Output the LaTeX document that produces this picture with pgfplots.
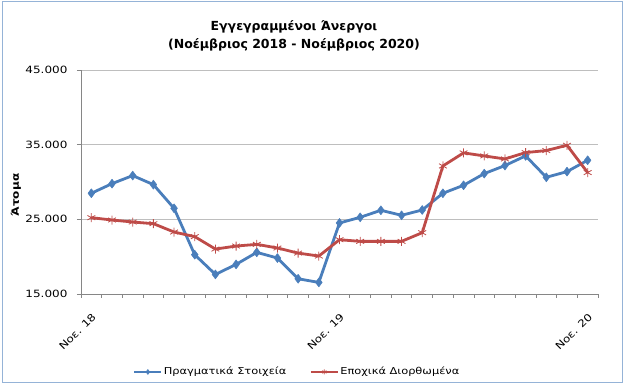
\documentclass[border=0pt]{standalone}
\usepackage{pgfplots}
\usepackage{pgfplotstable}
\pgfplotsset{compat=1.18}
\usepackage{fontspec}
\setmainfont{DejaVu Sans}[FakeStretch=1.2]
\newfontfamily\titlefont{DejaVu Sans}
\definecolor{sblue}{RGB}{74,126,187}
\definecolor{sred}{RGB}{190,75,72}
\definecolor{gridc}{RGB}{190,190,190}
\definecolor{axc}{RGB}{134,134,134}
\definecolor{framec}{RGB}{149,179,215}

\pgfplotstableread{
m real sa
1 28490 25220
2 29780 24910
3 30860 24640
4 29650 24420
5 26475 23300
6 20260 22680
7 17620 21020
8 18965 21420
9 20575 21650
10 19815 21160
11 17040 20480
12 16550 20080
13 24510 22270
14 25270 22050
15 26210 22050
16 25540 22050
17 26250 23210
18 28490 32150
19 29560 33900
20 31125 33490
21 32200 33090
22 33500 33940
23 30630 34210
24 31390 34920
25 32910 31260
}\data

\begin{document}
\begin{tikzpicture}[x=1pt,y=1pt]
\useasboundingbox (0,0) rectangle (625,388);
\draw[framec, line width=1pt] (2,5) rectangle (622.5,386);
\begin{axis}[
  at={(81pt,94pt)}, anchor=south west,
  scale only axis, width=517pt, height=224pt,
  xmin=0.5, xmax=25.5, ymin=15000, ymax=45000,
  axis lines*=left,
  axis line style={axc, line width=0.8pt},
  every tick/.style={axc, line width=0.8pt},
  tick align=outside, major tick length=4pt, minor tick length=4pt,
  xtick={1,13,25},
  xticklabels={Νοε. 18, Νοε. 19, Νοε. 20},
  minor xtick={0.5,1.5,...,25.5},
  major x tick style={draw=none},
  xticklabel style={rotate=45, anchor=east, inner sep=0pt, yshift=-14pt, xshift=-10pt},
  ytick={15000,25000,35000,45000},
  scaled y ticks=false,
  yticklabel={\pgfmathprintnumber[fixed, precision=0, 1000 sep={.}, assume math mode=true]{\tick}},
  ticklabel style={font=\fontsize{10}{12}\selectfont, text=black},
  yticklabel style={xshift=-6pt},
  ymajorgrids, major grid style={gridc, line width=0.8pt},
  legend columns=2,
  legend style={at={(0.418,-0.348)}, anchor=center, draw=none, fill=none,
    font=\fontsize{9.5}{11}\selectfont,
    nodes={inner xsep=1.5pt},
    /tikz/every even column/.append style={column sep=22pt}},
  legend image code/.code={\draw[mark repeat=2,mark phase=2,#1, line width=2pt, mark size=2.5pt] plot coordinates {(0pt,0pt) (13.5pt,0pt) (27pt,0pt)};},
  clip=false,
]
\addplot[sblue, line width=2.8pt, line join=round, mark=diamond*, mark size=4.5pt, mark options={line width=0.5pt, fill=sblue}] table[x=m, y=real] {\data};
\addlegendentry{Πραγματικά Στοιχεία}
\addplot[sred, line width=2.8pt, line join=round, mark=asterisk, mark size=4.5pt, mark options={line width=0.8pt}] table[x=m, y=sa] {\data};
\addlegendentry{Εποχικά Διορθωμένα}
\end{axis}
\node[font=\titlefont\bfseries\fontsize{12.5}{18}\selectfont, align=center] at (294,352) {Εγγεγραμμένοι Άνεργοι\\(Νοέμβριος 2018 - Νοέμβριος 2020)};
\node[font=\bfseries\fontsize{10}{12}\selectfont, rotate=90] at (16,193) {Άτομα};
\end{tikzpicture}
\end{document}
